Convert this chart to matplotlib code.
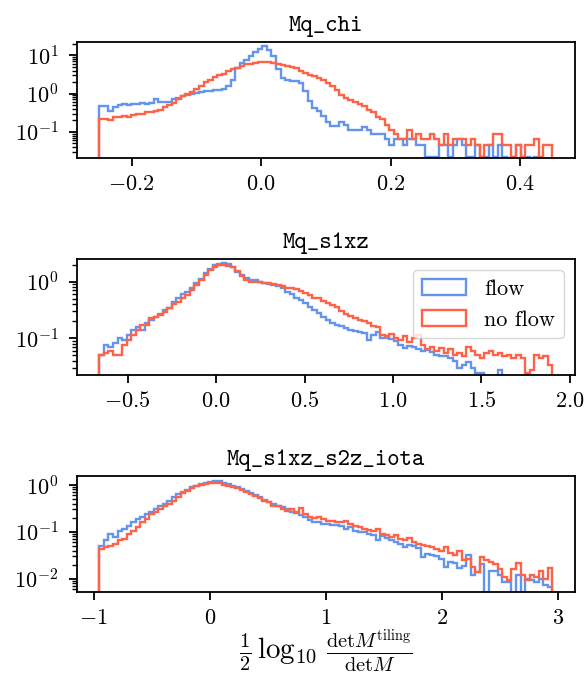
import numpy as np
import matplotlib.pyplot as plt

plt.rcParams['font.family'] = 'serif'
plt.rcParams['font.serif'] = ['cmr10']
plt.rcParams['font.monospace'] = ['cmtt10']
plt.rcParams['mathtext.fontset'] = 'cm'
plt.rcParams['axes.formatter.use_mathtext'] = True
plt.rcParams['font.size'] = 16
plt.rcParams['axes.linewidth'] = 1.3
for ax_name in ['xtick', 'ytick']:
    plt.rcParams[ax_name + '.major.size'] = 6
    plt.rcParams[ax_name + '.minor.size'] = 3.5
    plt.rcParams[ax_name + '.major.width'] = 1.3
    plt.rcParams[ax_name + '.minor.width'] = 1.0
plt.rcParams['xtick.major.pad'] = 6
plt.rcParams['ytick.major.pad'] = 7

titles = ["Mq_chi", "Mq_s1xz", "Mq_s1xz_s2z_iota"]
labels = ["flow", "no flow"]
colors = ["cornflowerblue", "tomato"]

# histogram ranges (data min / max) for each panel, 100 bins each
ranges = [(-0.25, 0.45), (-0.66, 1.90), (-0.95, 2.95)]

# Mq_chi
chi_flow = [
    0.47, 0.47, 0.34, 0.45, 0.50, 0.52, 0.50, 0.53, 0.52, 0.55,
    0.53, 0.58, 0.70, 0.62, 0.62, 0.62, 0.70, 0.78, 0.85, 0.94,
    1.0, 1.04, 1.1, 1.15, 1.2, 1.27, 1.27, 1.35, 1.56, 2.3,
    4.6, 6.3, 7.7, 9.5, 12.0, 15.0, 17.4, 14.0, 9.5, 4.3,
    2.6, 2.2, 2.1, 2.1, 1.9, 1.15, 0.63, 0.42, 0.34, 0.26,
    0.18, 0.14, 0.14, 0.18, 0.15, 0.11, 0.11, 0.11, 0.13, 0.11,
    0.088, 0.088, 0.088, 0.066, 0.044, 0.066, 0.066, 0.044, 0.066, 0.066,
    0.044, 0.044, 0.022, 0.022, 0.022, 0.044, 0.044, 0.022, 0.044, 0.066,
    0.044, 0.022, 0.022, 0.044, 0.022, 0.022, 0.044, 0.022, 0.044, 0.022,
    0, 0.022, 0.044, 0.022, 0.022, 0, 0.022, 0, 0, 0]
chi_noflow = [
    0.21, 0.22, 0.20, 0.25, 0.24, 0.26, 0.25, 0.27, 0.29, 0.30,
    0.32, 0.33, 0.36, 0.38, 0.44, 0.50, 0.58, 0.72, 0.85, 0.98,
    1.1, 1.3, 1.55, 1.95, 2.3, 2.7, 3.0, 3.3, 3.8, 4.3,
    4.8, 5.3, 5.8, 6.1, 6.4, 6.7, 6.8, 6.7, 6.4, 6.0,
    5.6, 5.3, 5.0, 4.6, 4.0, 3.4, 3.1, 2.8, 2.5, 2.3,
    1.9, 1.55, 1.25, 0.9, 0.75, 0.68, 0.6, 0.54, 0.46, 0.38,
    0.32, 0.25, 0.21, 0.154, 0.11, 0.088, 0.066, 0.066, 0.11, 0.066,
    0.088, 0.066, 0.066, 0.088, 0.066, 0.044, 0.088, 0.044, 0.066, 0.066,
    0.066, 0.044, 0.066, 0.044, 0.022, 0.044, 0.044, 0.088, 0.088, 0.044,
    0.044, 0.022, 0.044, 0.022, 0.044, 0.044, 0.066, 0.022, 0.044, 0.044]

# Mq_s1xz
s1xz_flow = [
    0.051, 0.076, 0.071, 0.081, 0.10, 0.093, 0.114, 0.14, 0.16, 0.14,
    0.184, 0.21, 0.24, 0.265, 0.31, 0.338, 0.443, 0.52, 0.60, 0.667,
    0.764, 0.94, 1.13, 1.43, 1.71, 1.96, 2.07, 2.16, 2.02, 1.81,
    1.50, 1.31, 1.17, 1.09, 1.05, 1.0, 0.955, 0.91, 0.875, 0.83,
    0.764, 0.667, 0.60, 0.52, 0.47, 0.415, 0.36, 0.31, 0.275, 0.24,
    0.21, 0.184, 0.17, 0.167, 0.15, 0.14, 0.135, 0.128, 0.1225, 0.093,
    0.115, 0.13, 0.10, 0.10, 0.095, 0.09, 0.076, 0.068, 0.0735, 0.070,
    0.064, 0.058, 0.062, 0.056, 0.050, 0.049, 0.048, 0.044, 0.040, 0.029,
    0.034, 0.038, 0.029, 0.0245, 0.0245, 0, 0, 0, 0.027, 0,
    0, 0, 0, 0, 0, 0, 0, 0, 0, 0]
s1xz_noflow = [
    0.051, 0.054, 0.058, 0.051, 0.051, 0.076, 0.091, 0.114, 0.14, 0.168,
    0.172, 0.225, 0.24, 0.258, 0.285, 0.338, 0.40, 0.443, 0.52, 0.582,
    0.715, 0.875, 1.07, 1.31, 1.60, 1.83, 1.97, 1.97, 1.89, 1.81,
    1.55, 1.28, 1.07, 1.0, 0.975, 0.975, 0.94, 0.94, 0.91, 0.875,
    0.85, 0.785, 0.764, 0.735, 0.69, 0.63, 0.57, 0.52, 0.51, 0.46,
    0.415, 0.38, 0.35, 0.30, 0.27, 0.25, 0.23, 0.21, 0.20, 0.184,
    0.167, 0.16, 0.114, 0.107, 0.117, 0.10, 0.093, 0.107, 0.085, 0.10,
    0.114, 0.076, 0.064, 0.071, 0.058, 0.066, 0.054, 0.064, 0.051, 0.054,
    0.048, 0.071, 0.058, 0.051, 0.044, 0.054, 0.058, 0.051, 0.054, 0.048,
    0.051, 0.044, 0.051, 0.044, 0.024, 0.027, 0.051, 0.044, 0.048, 0.034]

# Mq_s1xz_s2z_iota
iota_flow = [
    0.051, 0.066, 0.090, 0.077, 0.106, 0.116, 0.136, 0.16, 0.188, 0.204,
    0.24, 0.27, 0.306, 0.35, 0.395, 0.46, 0.54, 0.635, 0.71, 0.785,
    0.89, 0.953, 1.03, 1.12, 1.17, 1.22, 1.22, 1.12, 1.03, 0.953,
    0.89, 0.81, 0.75, 0.69, 0.61, 0.54, 0.48, 0.44, 0.395, 0.36,
    0.335, 0.306, 0.26, 0.255, 0.23, 0.204, 0.183, 0.165, 0.16, 0.148,
    0.148, 0.14, 0.14, 0.136, 0.116, 0.125, 0.106, 0.10, 0.098, 0.09,
    0.086, 0.066, 0.08, 0.073, 0.068, 0.060, 0.055, 0.047, 0.053, 0.05,
    0.045, 0.029, 0.034, 0.032, 0.031, 0.0268, 0.018, 0.023, 0.022, 0.017,
    0.019, 0.0316, 0.0119, 0.014, 0.021, 0, 0.015, 0.015, 0.012, 0.0086,
    0.0086, 0, 0.012, 0, 0.010, 0.0093, 0.0086, 0.010, 0.0073, 0.0068]
iota_noflow = [
    0.044, 0.047, 0.05, 0.055, 0.066, 0.071, 0.09, 0.106, 0.125, 0.16,
    0.19, 0.24, 0.26, 0.306, 0.35, 0.395, 0.46, 0.54, 0.67, 0.75,
    0.85, 0.93, 0.98, 1.03, 1.08, 1.12, 1.08, 0.98, 0.953, 0.89,
    0.85, 0.785, 0.71, 0.635, 0.57, 0.52, 0.46, 0.44, 0.36, 0.35,
    0.306, 0.283, 0.306, 0.27, 0.315, 0.24, 0.204, 0.195, 0.204, 0.188,
    0.174, 0.174, 0.165, 0.165, 0.174, 0.148, 0.132, 0.125, 0.116, 0.112,
    0.105, 0.116, 0.09, 0.086, 0.077, 0.084, 0.071, 0.068, 0.073, 0.060,
    0.055, 0.053, 0.05, 0.047, 0.0436, 0.04, 0.047, 0.036, 0.0316, 0.04,
    0.025, 0.0268, 0.018, 0.014, 0.029, 0.025, 0.0228, 0.021, 0.0165, 0.011,
    0.0093, 0.0165, 0.022, 0.012, 0.0093, 0.012, 0.011, 0.015, 0.010, 0.017]

series = [(chi_flow, chi_noflow), (s1xz_flow, s1xz_noflow), (iota_flow, iota_noflow)]
ylims = [(0.021, 21.9), (0.0225, 2.49), (0.0053, 1.53)]

fig, axes = plt.subplots(3, 1, figsize=(5.86, 6.77), dpi=100)
fig.subplots_adjust(left=0.131, right=0.981, top=0.9375, bottom=0.126, hspace=0.88)

for ax, title, (lo, hi), pair, ylim in zip(axes, titles, ranges, series, ylims):
    edges = np.linspace(lo, hi, len(pair[0]) + 1)
    for vals, lab, col in zip(pair, labels, colors):
        ax.hist(edges[:-1], bins=edges, weights=vals, histtype='step',
                log=True, color=col, lw=1.7, label=lab)
    ax.set_title(title, family='monospace', fontsize=17, pad=8)
    pad = 0.05 * (hi - lo)
    ax.set_xlim(lo - pad, hi + pad)
    ax.set_ylim(*ylim)

axes[1].legend(loc='upper right', fontsize=16)
axes[2].set_xlabel(r'$\frac{1}{2}\,\log_{10}\,\frac{\mathrm{det}M^{\mathrm{tiling}}}{\mathrm{det}M}$',
                   fontsize=21, labelpad=0)

fig.savefig("out.png", dpi=100)
